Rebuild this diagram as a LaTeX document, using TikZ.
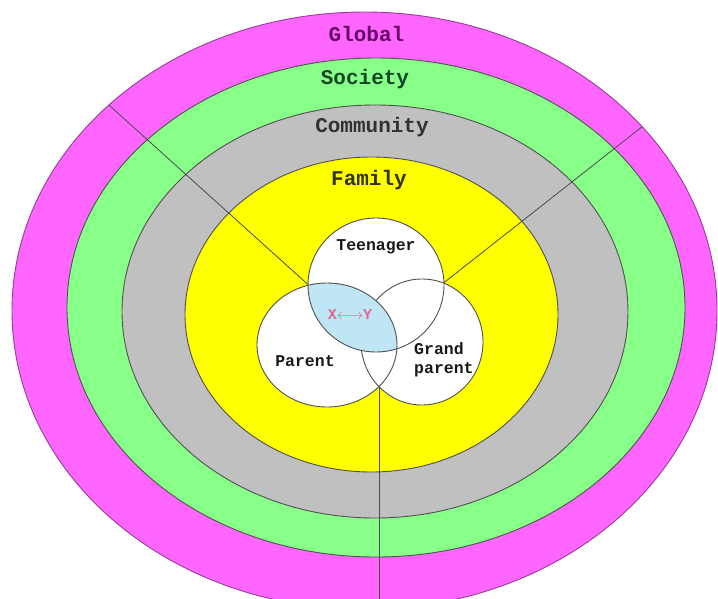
\documentclass[tikz,border=0pt]{standalone}
\usepackage{fontspec}
\newfontfamily\monob{Liberation Mono}
\definecolor{gpink}{RGB}{255,102,255}
\definecolor{sgreen}{RGB}{136,255,136}
\definecolor{cgrey}{RGB}{192,192,192}
\definecolor{fyellow}{RGB}{255,255,0}
\definecolor{lensblue}{RGB}{190,230,245}
\definecolor{tglobal}{RGB}{100,10,100}
\definecolor{tsoc}{RGB}{20,70,40}
\definecolor{tcom}{RGB}{50,50,50}
\definecolor{tfam}{RGB}{50,50,20}
\definecolor{txy}{RGB}{230,100,140}
\definecolor{gedge}{RGB}{150,60,150}
\definecolor{edge}{RGB}{80,80,80}
\tikzset{
  ringedge/.style={draw=#1, line width=0.9pt},
  spoke/.style={draw=black!70, line width=0.8pt},
  vennedge/.style={draw=edge, line width=0.9pt},
  ringlabel/.style={font=\monob\bfseries\fontsize{21}{21}\selectfont, inner sep=0pt},
  vennlabel/.style={font=\monob\bfseries\fontsize{16.5}{19}\selectfont, inner sep=0pt, text=black!90, align=left}
}
\begin{document}
\begin{tikzpicture}[x=1pt,y=-1pt]
\clip (0,0) rectangle (718,598);
\fill[white] (0,0) rectangle (718,598);
% rings
\path[fill=gpink, ringedge=gedge] (364.5,310.7) ellipse [x radius=352.5pt, y radius=298.7pt];
\path[fill=sgreen, ringedge=edge] (376,307.5) ellipse [x radius=309pt, y radius=249.5pt];
\path[fill=cgrey, ringedge=edge] (375,311.5) ellipse [x radius=253pt, y radius=206.5pt];
\path[fill=fyellow, ringedge=edge] (371.5,314.5) ellipse [x radius=186.5pt, y radius=157.5pt];
% crossing points of the Venn circles and outer ends of the spokes
\coordinate (tpx) at (308.5,285);
\coordinate (gtx) at (443.5,283);
\coordinate (pgx) at (379,386.6);
\coordinate (lo) at (100,97);
\coordinate (ro) at (657,115);
\coordinate (bo) at (379,610);
\begin{scope}
  \clip (364.5,310.7) ellipse [x radius=352.5pt, y radius=298.7pt];
  \draw[spoke] (lo) -- (tpx);
  \draw[spoke] (ro) -- (gtx);
  \draw[spoke] (bo) -- (pgx);
\end{scope}
% Venn
\fill[white] (376,285) ellipse [x radius=68pt, y radius=67pt];
\fill[white] (327,345) ellipse [x radius=70pt, y radius=62pt];
\fill[white] (422,342) ellipse [x radius=61pt, y radius=63pt];
\path[vennedge] (422,342) ellipse [x radius=61pt, y radius=63pt];
\begin{scope}
  \clip (376,285) ellipse [x radius=68pt, y radius=67pt];
  \fill[lensblue] (327,345) ellipse [x radius=70pt, y radius=62pt];
\end{scope}
\path[vennedge] (376,285) ellipse [x radius=68pt, y radius=67pt];
\path[vennedge] (327,345) ellipse [x radius=70pt, y radius=62pt];
% labels
\node[ringlabel, text=tglobal] (global) at (366.5,34) {Global};
\node[ringlabel, text=tsoc] (society) at (365,79) {Society};
\node[ringlabel, text=tcom] (community) at (372,127) {Community};
\node[ringlabel, text=tfam] (family) at (369,180) {Family};
\node[vennlabel] (teen) at (376,247) {Teenager};
\node[vennlabel] (parent) at (305,361) {Parent};
\node[vennlabel, anchor=west] (grand) at (414,360) {Grand\\parent};
\node[font=\monob\bfseries\fontsize{15}{15}\selectfont, text=txy, inner sep=0pt] (xy) at (350,315) {X$\longleftrightarrow$Y};
\end{tikzpicture}
\end{document}
